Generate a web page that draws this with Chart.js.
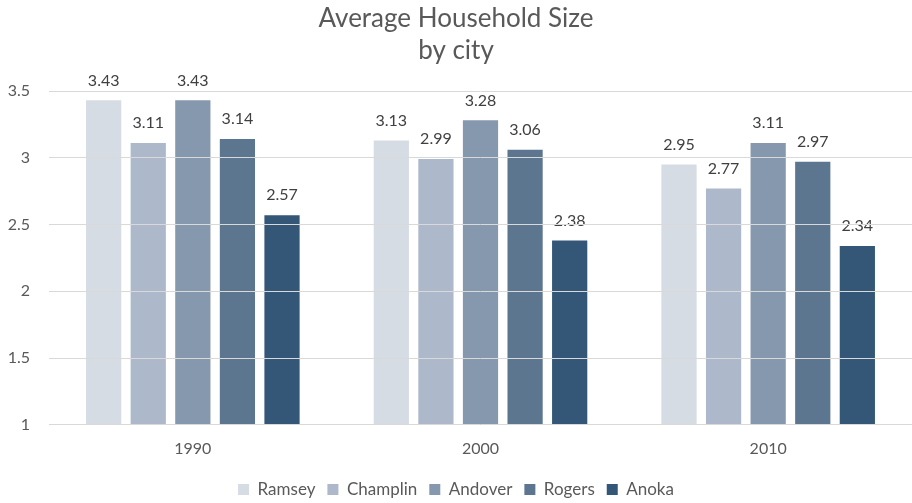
<!DOCTYPE html>
<html>
<head>
<meta charset="utf-8">
<script src="https://cdn.jsdelivr.net/npm/chart.js@4/dist/chart.umd.min.js"></script>
<style>
  html, body { margin: 0; padding: 0; background: #fff; }
  #wrap { width: 912px; height: 503px; }
</style>
</head>
<body>
<div id="wrap"><canvas id="myChart"></canvas></div>
<script>
// Datos del gráfico
const years = ['1990', '2000', '2010'];
const cities = ['Ramsey', 'Champlin', 'Andover', 'Rogers', 'Anoka'];
const ramsey = [3.43, 3.13, 2.95];
const champlin = [3.11, 2.99, 2.77];
const andover = [3.43, 3.28, 3.11];
const rogers = [3.14, 3.06, 2.97];
const anoka = [2.57, 2.38, 2.34];
const yTicks = [1, 1.5, 2, 2.5, 3, 3.5];

const colores = ['#d6dce4', '#adb9ca', '#8598ae', '#5d7690', '#345677'];
const series = [ramsey, champlin, andover, rogers, anoka];

const fuente = 'Lato, "Open Sans", sans-serif';

// Etiquetas con el valor encima de cada barra
const etiquetas = {
    id: 'etiquetas',
    afterDatasetsDraw(chart) {
        const ctx = chart.ctx;
        ctx.save();
        ctx.font = '16px ' + fuente;
        ctx.fillStyle = '#404040';
        ctx.textAlign = 'center';
        ctx.textBaseline = 'bottom';
        chart.data.datasets.forEach((ds, i) => {
            chart.getDatasetMeta(i).data.forEach((bar, j) => {
                ctx.fillText(ds.data[j].toFixed(2), bar.x, bar.y - 12);
            });
        });
        ctx.restore();
    }
};

const ctx = document.getElementById('myChart').getContext('2d');

const myChart = new Chart(ctx, {
    type: 'bar',
    data: {
        labels: years,
        datasets: cities.map((c, i) => ({
            label: c,
            data: series[i],
            backgroundColor: colores[i],
            borderWidth: 0,
            barPercentage: 0.79,
            categoryPercentage: 0.775
        }))
    },
    options: {
        responsive: true,
        maintainAspectRatio: false,
        animation: false,
        layout: { padding: { top: 2, right: 0, left: 0, bottom: -5 } },
        plugins: {
            title: {
                display: true,
                text: ['Average Household Size', 'by city'],
                color: '#595959',
                font: { family: fuente, size: 26, weight: 'normal', lineHeight: 1.25 },
                padding: { top: 0, bottom: 24 }
            },
            legend: {
                position: 'bottom',
                labels: {
                    color: '#595959',
                    font: { family: fuente, size: 17 },
                    boxWidth: 11,
                    boxHeight: 11,
                    padding: 12
                }
            },
            tooltip: { enabled: false }
        },
        scales: {
            x: {
                grid: { display: false },
                border: { color: '#d9d9d9', width: 1 },
                afterFit: axis => { axis.height += 5; },
                ticks: { color: '#595959', font: { family: fuente, size: 16 }, padding: 6 }
            },
            y: {
                min: 1,
                max: 3.5,
                afterBuildTicks: axis => { axis.ticks = yTicks.map(v => ({ value: v })); },
                afterFit: axis => { axis.width = 49; },
                grid: { color: '#d9d9d9', drawTicks: false, z: 1 },
                border: { display: false },
                ticks: {
                    color: '#595959',
                    font: { family: fuente, size: 16 },
                    padding: 19,
                    callback: v => String(v)
                }
            }
        }
    },
    plugins: [etiquetas]
});
</script>
</body>
</html>
